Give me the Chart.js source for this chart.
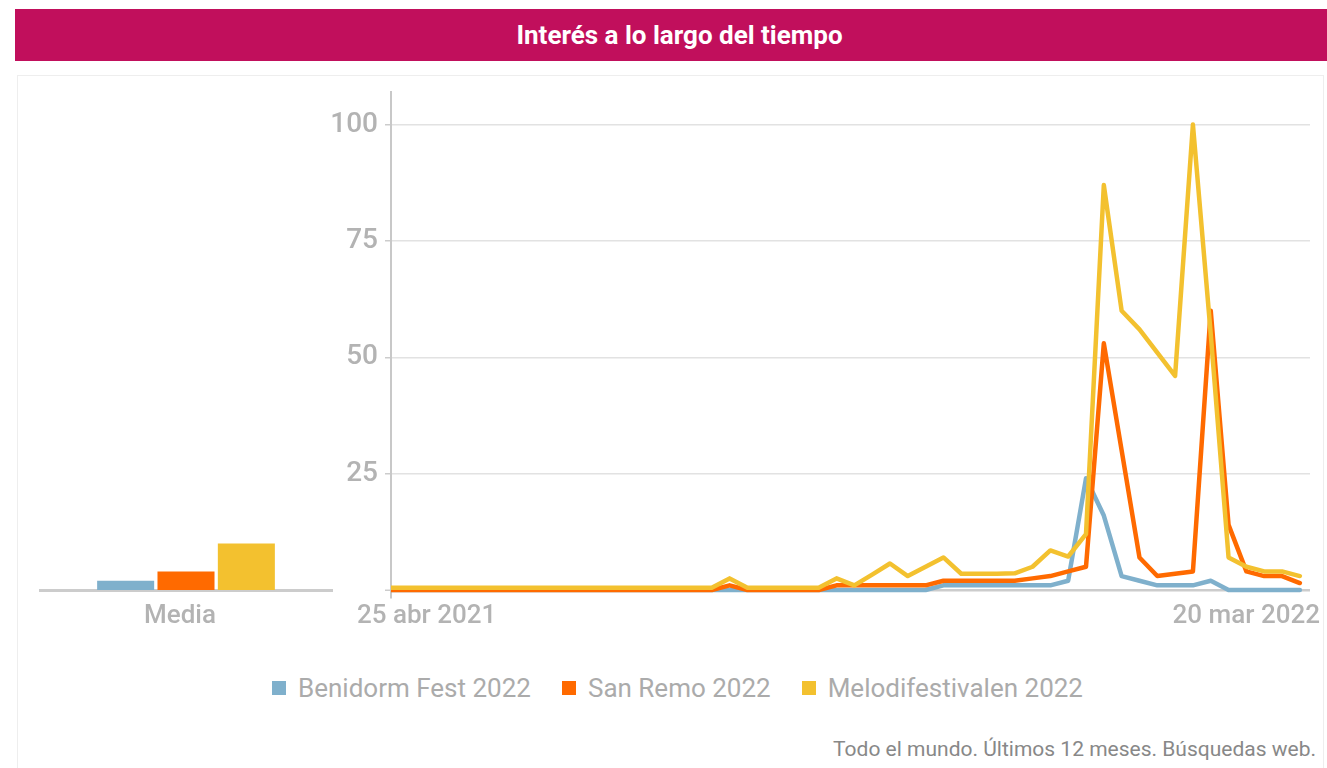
<!DOCTYPE html>
<html lang="es">
<head>
<meta charset="utf-8">
<title>Interés a lo largo del tiempo</title>
<script src="https://cdn.jsdelivr.net/npm/chart.js@4.4.0/dist/chart.umd.min.js"></script>
<style>
html,body{margin:0;padding:0;background:#fff;width:1327px;height:768px;overflow:hidden;font-family:Roboto,"Noto Sans",sans-serif;}
#hdr{position:absolute;left:15px;top:9px;width:1295px;padding-left:17px;height:52px;background:#c10f5c;color:#fff;font-weight:700;font-size:26px;display:flex;align-items:center;justify-content:center;}
#card{position:absolute;left:17px;top:75px;width:1307px;height:720px;border:1px solid #eeeeee;box-sizing:border-box;}
#mini{position:absolute;left:0;top:80px;}
#main{position:absolute;left:300px;top:80px;}
#legend{position:absolute;left:272px;top:674px;height:28px;display:flex;align-items:center;font-size:26px;color:#ababab;white-space:nowrap;}
.it{display:flex;align-items:center;margin-right:31px;}
.sw{width:14px;height:14px;margin-right:12px;}
#foot{position:absolute;right:11px;top:737px;font-size:21px;color:#888;white-space:nowrap;}
</style>
</head>
<body>
<div id="hdr">Interés a lo largo del tiempo</div>
<div id="card"></div>
<canvas id="mini" width="345" height="560"></canvas>
<canvas id="main" width="1027" height="560"></canvas>
<div id="legend"></div>
<div id="foot">Todo el mundo. Últimos 12 meses. Búsquedas web.</div>
<script>
// ---- data ----
const seriesNames = ['Benidorm Fest 2022', 'San Remo 2022', 'Melodifestivalen 2022'];
const seriesColors = ['#7fb0cc', '#ff6a00', '#f3c12f'];

const weeks = [
  '11 abr 2021','18 abr 2021','25 abr 2021','2 may 2021','9 may 2021','16 may 2021','23 may 2021','30 may 2021',
  '6 jun 2021','13 jun 2021','20 jun 2021','27 jun 2021','4 jul 2021','11 jul 2021','18 jul 2021','25 jul 2021',
  '1 ago 2021','8 ago 2021','15 ago 2021','22 ago 2021','29 ago 2021','5 sept 2021','12 sept 2021','19 sept 2021',
  '26 sept 2021','3 oct 2021','10 oct 2021','17 oct 2021','24 oct 2021','31 oct 2021','7 nov 2021','14 nov 2021',
  '21 nov 2021','28 nov 2021','5 dic 2021','12 dic 2021','19 dic 2021','26 dic 2021','2 ene 2022','9 ene 2022',
  '16 ene 2022','23 ene 2022','30 ene 2022','6 feb 2022','13 feb 2022','20 feb 2022','27 feb 2022','6 mar 2022',
  '13 mar 2022','20 mar 2022','27 mar 2022','3 abr 2022'
];
const xLabelIndexes = [2, 49];

const benidorm = [
  0,0,0,0,0,0,0,0,0,0,0,0,0,0,0,0,0,0,0,0,0,0,0,0,0,0,0,0,0,0,0,
  1,1,1,1,1,1,1,
  2,24,16,3,2,1,1,1,2,
  0,0,0,0,0
];
const sanremo = [
  0,0,0,0,0,0,0,0,0,0,0,0,0,0,0,0,0,0,0,
  1,
  0,0,0,0,0,
  1,
  1,1,1,1,1,
  2,2,2,2,2,
  2.5,3,4,5,53,30,7,3,3.5,4,60,14,4,3,3,1.5
];
const melodi = [
  0.5,0.5,0.5,0.5,0.5,0.5,0.5,0.5,0.5,0.5,0.5,0.5,0.5,0.5,0.5,0.5,0.5,0.5,0.5,
  2.5,
  0.5,0.5,0.5,0.5,0.5,
  2.5,
  1,3.3,5.7,3,5,7,3.5,3.5,3.5,3.6,5,8.5,7.2,12,87,60,56,51,46,100,55,7,5,4,4,3
];

const mediaValues = [2, 4, 10];
const yTicks = [0, 25, 50, 75, 100];

// ---- legend (html) ----
const lg = document.getElementById('legend');
seriesNames.forEach((n, k) => {
  const it = document.createElement('div'); it.className = 'it';
  const sw = document.createElement('div'); sw.className = 'sw'; sw.style.background = seriesColors[k];
  const tx = document.createElement('span'); tx.textContent = n;
  it.appendChild(sw); it.appendChild(tx); lg.appendChild(it);
});

Chart.defaults.font.family = 'Roboto';

// ---- mini bar chart (Media) ----
new Chart(document.getElementById('mini'), {
  type: 'bar',
  data: {
    labels: ['Media'],
    datasets: seriesNames.map((n, k) => ({
      label: n, data: [mediaValues[k]], backgroundColor: seriesColors[k],
      categoryPercentage: 0.62, barPercentage: 0.945
    }))
  },
  options: {
    responsive: false, animation: false,
    layout: { padding: { left: 40, right: 13, top: 12, bottom: 0 } },
    plugins: { legend: { display: false }, tooltip: { enabled: false } },
    scales: {
      y: { display: false, min: 0, max: 107 },
      x: {
        grid: { display: false },
        border: { display: true, color: '#cccccc', width: 3 },
        ticks: { font: { family: 'Roboto', size: 26, weight: '500' }, color: '#b3b3b3', padding: 3, labelOffset: -6 },
        afterFit: s => { s.height = 50; s.paddingLeft = 0; s.paddingRight = 0; }
      }
    }
  }
});

// ---- main line chart ----
const xLabelPlugin = {
  id: 'xLabels',
  afterDraw(chart) {
    const { ctx, chartArea } = chart; const xs = chart.scales.x;
    ctx.save();
    ctx.font = '500 26px Roboto';
    ctx.fillStyle = '#b3b3b3';
    ctx.textBaseline = 'middle';
    ctx.textAlign = 'left';
    xLabelIndexes.forEach(i => {
      const t = weeks[i];
      const w = ctx.measureText(t).width;
      let x = xs.getPixelForValue(i) - w / 2;
      x = Math.max(0, Math.min(x, chartArea.right + 10 - w));
      ctx.fillText(t, x, chartArea.bottom + 19);
    });
    ctx.restore();
  }
};

const lineSeries = [benidorm, sanremo, melodi];
new Chart(document.getElementById('main'), {
  type: 'line',
  data: {
    datasets: lineSeries.map((arr, k) => ({
      label: seriesNames[k],
      data: arr.map((v, i) => ({ x: i, y: v })),
      borderColor: seriesColors[k],
      backgroundColor: seriesColors[k],
      borderWidth: 4.5,
      pointRadius: 0,
      tension: 0,
      borderJoinStyle: 'round',
      borderCapStyle: 'round',
      order: 2 - k
    }))
  },
  options: {
    responsive: false, animation: false,
    layout: { padding: { left: 0, right: 17, top: 12, bottom: 43 } },
    plugins: { legend: { display: false }, tooltip: { enabled: false } },
    scales: {
      x: { type: 'linear', display: false, min: 0, max: 51.57 },
      y: {
        min: -1.5, max: 107,
        afterBuildTicks: s => { s.ticks = yTicks.map(v => ({ value: v })); },
        afterFit: s => { s.width = 91; s.paddingTop = 0; s.paddingBottom = 0; },
        ticks: {
          callback: v => (v === 0 ? '' : String(v)),
          font: { family: 'Roboto', size: 28, weight: '500' },
          color: '#b3b3b3', padding: 7
        },
        grid: {
          color: c => (c.tick && c.tick.value === 0 ? '#cccccc' : '#e2e2e2'),
          lineWidth: c => (c.tick && c.tick.value === 0 ? 2.5 : 1.5),
          tickLength: 6, tickColor: '#cccccc', tickWidth: 1.5
        },
        border: { display: true, color: '#c8c8c8', width: 2 }
      }
    }
  },
  plugins: [xLabelPlugin]
});
</script>
</body>
</html>
